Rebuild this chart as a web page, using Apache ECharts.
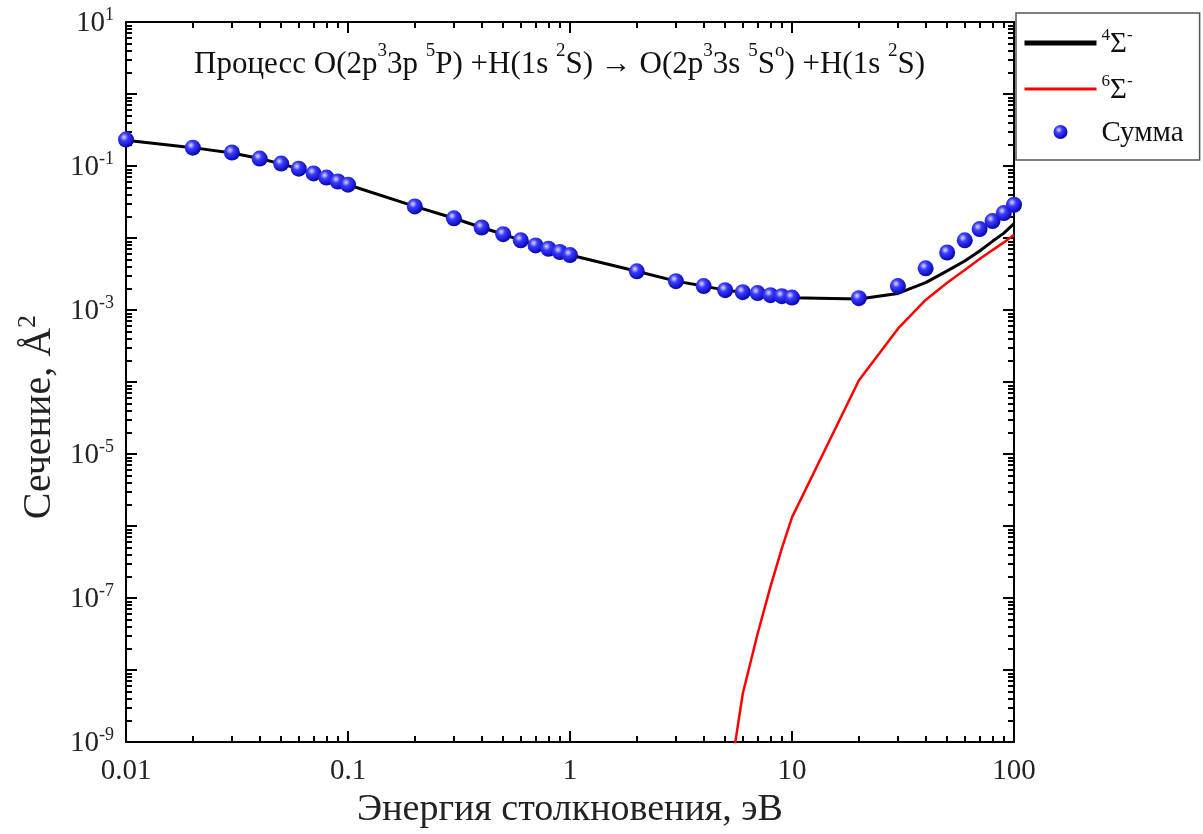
<!DOCTYPE html>
<html>
<head>
<meta charset="utf-8">
<script src="https://cdn.jsdelivr.net/npm/echarts@6/dist/echarts.min.js"></script>
<style>
  html, body { margin: 0; padding: 0; background: #fff; }
  #chart { width: 1203px; height: 834px; }
</style>
</head>
<body>
<div id="chart"></div>
<script>
// ---------- data ----------
var energySum = [0.01,0.02,0.03,0.04,0.05,0.06,0.07,0.08,0.09,0.1,
                 0.2,0.3,0.4,0.5,0.6,0.7,0.8,0.9,1,
                 2,3,4,5,6,7,8,9,10,
                 20,30,40,50,60,70,80,90,100];
var sumValues = [0.233,0.18,0.154,0.127,0.108,0.092,0.079,0.069,0.061,0.055,
                 0.0275,0.0188,0.014,0.0113,0.0093,0.0079,0.0071,0.0064,0.0058,
                 0.00345,0.00252,0.00215,0.00189,0.00177,0.00172,0.00161,0.00156,0.00149,
                 0.00146,0.00215,0.0038,0.0063,0.0093,0.0133,0.0172,0.0222,0.029];
var energyQuartet = [0.01,0.02,0.03,0.04,0.05,0.06,0.07,0.08,0.09,0.1,
                     0.2,0.3,0.4,0.5,0.6,0.7,0.8,0.9,1,
                     2,3,4,5,6,7,8,9,10,
                     20,30,40,50,60,70,80,90,100];
var quartetValues = [0.228,0.18,0.152,0.127,0.107,0.092,0.079,0.069,0.061,0.055,
                     0.0275,0.0188,0.014,0.0113,0.0093,0.0079,0.0071,0.0064,0.0058,
                     0.00345,0.00252,0.00215,0.00189,0.00177,0.00170,0.00161,0.00156,0.00148,
                     0.00142,0.0017,0.0024,0.0035,0.0048,0.0066,0.009,0.0117,0.0158];
var energySextet = [5,6,7,8,9,10,20,30,40,50,60,70,80,90,100];
var sextetValues = [1.2e-10,4.7e-9,3.2e-8,1.44e-7,4.9e-7,1.32e-6,1.05e-4,5.5e-4,1.38e-3,2.4e-3,3.6e-3,5.1e-3,6.8e-3,8.7e-3,0.0111];

var seriesNames = ['4Σ-', '6Σ-', 'Сумма'];
var legendLabels = ['{s|4}{b|Σ}{s|-}', '{s|6}{b|Σ}{s|-}', '{b|Сумма}'];
var xTickValues = [0.01, 0.1, 1, 10, 100];
var xTickLabels = ['0.01', '0.1', '1', '10', '100'];
var yLabelValues = [10, 0.1, 1e-3, 1e-5, 1e-7, 1e-9];
var yLabelExponents = ['1', '-1', '-3', '-5', '-7', '-9'];
var yMajorValues = [1e-9,1e-8,1e-7,1e-6,1e-5,1e-4,1e-3,1e-2,1e-1,1,10];

var titleRich = '{n|Процесс O(2p}{s|3}{n|3p }{s|5}{n|P) +H(1s }{s|2}{n|S) → O(2p}{s|3}{n|3s }{s|5}{n|S}{s|o}{n|) +H(1s }{s|2}{n|S)}';
var xAxisTitle = 'Энергия столкновения, эВ';
var yAxisTitle = '{n|Сечение, Å}{s|2}';

// minor tick positions (2..9 within each decade)
function minorTicks(fromExp, toExp) {
  var out = [];
  for (var e = fromExp; e < toExp; e++) {
    for (var k = 2; k <= 9; k++) out.push(parseFloat((k * Math.pow(10, e)).toPrecision(6)));
  }
  return out;
}
var xMinor = minorTicks(-2, 2);
var yMinor = minorTicks(-9, 1);

function pairs(xs, ys) { return xs.map(function (x, i) { return [x, ys[i]]; }); }

var FONT = '"Liberation Serif", "Times New Roman", serif';

function xAx(pos, major, withLabels, withLine) {
  return {
    type: 'log', logBase: 10, min: 0.01, max: 100, position: pos,
    axisLine: { show: withLine, onZero: false, lineStyle: { color: '#000', width: 2 } },
    axisTick: { show: true, inside: true, length: major ? 11 : 6,
                lineStyle: { color: '#000', width: 2 },
                customValues: major ? xTickValues : xMinor },
    axisLabel: { show: withLabels, customValues: xTickValues, margin: 15,
                 fontFamily: FONT, fontSize: 29, color: '#222',
                 formatter: function (v) {
                   for (var i = 0; i < xTickValues.length; i++) {
                     if (Math.abs(Math.log10(v) - Math.log10(xTickValues[i])) < 1e-6) return xTickLabels[i];
                   }
                   return '';
                 } },
    splitLine: { show: false }, minorTick: { show: false }, minorSplitLine: { show: false },
    name: withLabels ? xAxisTitle : '', nameLocation: 'middle', nameGap: 48,
    nameTextStyle: { fontFamily: FONT, fontSize: 38, color: '#222' },
    silent: true
  };
}
function yAx(pos, major, withLabels, withLine) {
  return {
    type: 'log', logBase: 10, min: 1e-9, max: 10, position: pos,
    axisLine: { show: withLine, onZero: false, lineStyle: { color: '#000', width: 2 } },
    axisTick: { show: true, inside: true, length: major ? 11 : 6,
                lineStyle: { color: '#000', width: 2 },
                customValues: major ? yMajorValues : yMinor },
    axisLabel: { show: withLabels, customValues: yLabelValues, margin: 12,
                 fontFamily: FONT, color: '#222',
                 formatter: function (v) {
                   for (var i = 0; i < yLabelValues.length; i++) {
                     if (Math.abs(Math.log10(v) - Math.log10(yLabelValues[i])) < 1e-6)
                       return '{b|10}{s|' + yLabelExponents[i] + '}';
                   }
                   return '';
                 },
                 rich: {
                   b: { fontFamily: FONT, fontSize: 29, color: '#222', lineHeight: 32, verticalAlign: 'bottom' },
                   s: { fontFamily: FONT, fontSize: 18, color: '#222', lineHeight: 18, verticalAlign: 'top' }
                 } },
    splitLine: { show: false }, minorTick: { show: false }, minorSplitLine: { show: false },
    name: withLabels ? yAxisTitle : '', nameLocation: 'middle', nameGap: 60, nameRotate: 90,
    nameTextStyle: { fontFamily: FONT, color: '#222', padding: [0, 70, 0, 0],
      rich: {
        n: { fontFamily: FONT, fontSize: 40, color: '#222', lineHeight: 44, verticalAlign: 'bottom' },
        s: { fontFamily: FONT, fontSize: 26, color: '#222', lineHeight: 26, verticalAlign: 'top' }
      } },
    silent: true
  };
}

var ballColor = {
  type: 'radial', x: 0.38, y: 0.35, r: 0.7,
  colorStops: [
    { offset: 0, color: '#dcdcff' },
    { offset: 0.35, color: '#3a3aff' },
    { offset: 1, color: '#0000a8' }
  ]
};
var hiddenDot = { color: 'rgba(0,0,0,0)', borderWidth: 0, opacity: 0 };

var chart = echarts.init(document.getElementById('chart'), null, { renderer: 'canvas' });
chart.setOption({
  backgroundColor: '#ffffff',
  animation: false,
  textStyle: { fontFamily: FONT },
  title: {
    text: titleRich, left: 189, top: 37,
    textStyle: {
      fontWeight: 'normal',
      rich: {
        n: { fontFamily: FONT, fontSize: 31, fontWeight: 'normal', color: '#111', lineHeight: 38, verticalAlign: 'bottom' },
        s: { fontFamily: FONT, fontSize: 19, fontWeight: 'normal', color: '#111', lineHeight: 19, verticalAlign: 'top' }
      }
    }
  },
  grid: { left: 126, right: 189, top: 22, bottom: 89, containLabel: false },
  legend: {
    orient: 'vertical', left: 1016, top: 13,
    padding: [14, 16, 12, 6], itemGap: 14,
    itemWidth: 72, itemHeight: 14,
    borderColor: '#555', borderWidth: 1.5, backgroundColor: '#fff',
    data: [
      { name: seriesNames[0], lineStyle: { color: '#000', width: 5 }, itemStyle: hiddenDot },
      { name: seriesNames[1], lineStyle: { color: '#ff0000', width: 3 }, itemStyle: hiddenDot },
      { name: seriesNames[2], icon: 'circle' }
    ],
    formatter: function (name) { return legendLabels[seriesNames.indexOf(name)]; },
    textStyle: {
      padding: [0, 0, 0, 0],
      rich: {
        b: { fontFamily: FONT, fontSize: 29, color: '#111', lineHeight: 32, verticalAlign: 'bottom' },
        s: { fontFamily: FONT, fontSize: 17, color: '#111', lineHeight: 17, verticalAlign: 'top' }
      }
    },
    selectedMode: false
  },
  xAxis: [xAx('bottom', true, true, true), xAx('bottom', false, false, false),
          xAx('top', true, false, true), xAx('top', false, false, false)],
  yAxis: [yAx('left', true, true, true), yAx('left', false, false, false),
          yAx('right', true, false, true), yAx('right', false, false, false)],
  series: [
    { name: seriesNames[0], type: 'line', data: pairs(energyQuartet, quartetValues),
      showSymbol: false, symbol: 'none', smooth: false,
      lineStyle: { color: '#000', width: 3 }, itemStyle: { color: '#000' }, z: 3 },
    { name: seriesNames[1], type: 'line', data: pairs(energySextet, sextetValues),
      showSymbol: false, symbol: 'none', smooth: false, clip: true,
      lineStyle: { color: '#ff0000', width: 2.5 }, itemStyle: { color: '#ff0000' }, z: 2 },
    { name: seriesNames[2], type: 'scatter', data: pairs(energySum, sumValues),
      symbol: 'circle', symbolSize: 16,
      itemStyle: { color: ballColor, opacity: 1 }, z: 5 }
  ]
});
</script>
</body>
</html>
